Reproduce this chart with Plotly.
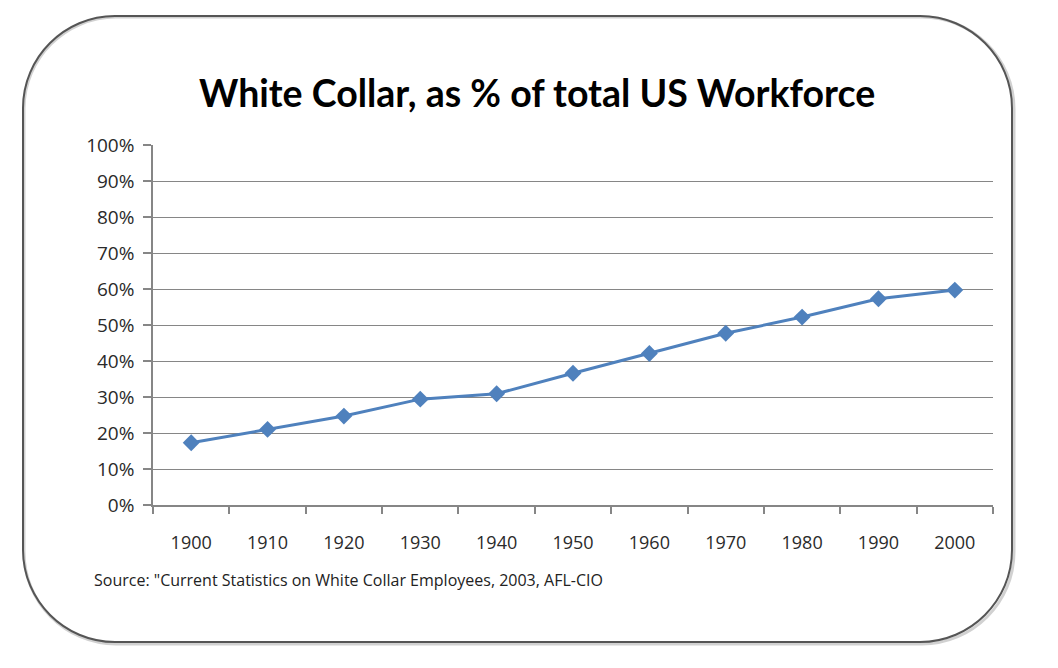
import plotly.graph_objects as go

# data
years = ["1900", "1910", "1920", "1930", "1940", "1950",
         "1960", "1970", "1980", "1990", "2000"]
white_collar_pct = [17.3, 21.0, 24.7, 29.4, 30.9, 36.6,
                    42.1, 47.7, 52.2, 57.3, 59.7]
y_ticks = [0, 10, 20, 30, 40, 50, 60, 70, 80, 90, 100]
y_tick_labels = [f"{v}%" for v in y_ticks]

# the page puts the figure 8px in from the window edge
W, H = 1042, 652
L, T = 145, 137
R = W - 985
B = H - 497
pw, ph = W - L - R, H - T - B


def px(x):
    return (x - L) / pw


def py(y):
    return (H - B - y) / ph


def rounded_box(x0, y0, x1, y1, r):
    # rounded rectangle in paper coords built from pixel positions
    k = 0.55 * r
    pts = [
        f"M {px(x0 + r)},{py(y0)}",
        f"L {px(x1 - r)},{py(y0)}",
        f"C {px(x1 - r + k)},{py(y0)} {px(x1)},{py(y0 + r - k)} {px(x1)},{py(y0 + r)}",
        f"L {px(x1)},{py(y1 - r)}",
        f"C {px(x1)},{py(y1 - r + k)} {px(x1 - r + k)},{py(y1)} {px(x1 - r)},{py(y1)}",
        f"L {px(x0 + r)},{py(y1)}",
        f"C {px(x0 + r - k)},{py(y1)} {px(x0)},{py(y1 - r + k)} {px(x0)},{py(y1 - r)}",
        f"L {px(x0)},{py(y0 + r)}",
        f"C {px(x0)},{py(y0 + r - k)} {px(x0 + r - k)},{py(y0)} {px(x0 + r)},{py(y0)}",
        "Z",
    ]
    return " ".join(pts)


fig = go.Figure()

fig.add_trace(go.Scatter(
    x=years,
    y=white_collar_pct,
    mode="lines+markers",
    line=dict(color="#4F81BD", width=3),
    marker=dict(symbol="diamond", size=13, color="#4F81BD"),
    hoverinfo="x+y",
))

# frame shadow + frame
fig.add_shape(type="path", xref="paper", yref="paper",
              path=rounded_box(16, 9, 1006, 636, 92),
              line=dict(color="rgba(0,0,0,0.18)", width=3), layer="below")
fig.add_shape(type="path", xref="paper", yref="paper",
              path=rounded_box(15, 8, 1004, 634, 92),
              line=dict(color="#555555", width=2), layer="below")

fig.add_annotation(
    text="<b>White Collar, as % of total US Workforce</b>",
    xref="paper", yref="paper", x=px(529), y=py(84),
    xanchor="center", yanchor="middle", showarrow=False,
    font=dict(family="Lato", size=37.5, color="#000000"),
)

fig.add_annotation(
    text="Source: \"Current Statistics on White Collar Employees, 2003, AFL-CIO",
    xref="paper", yref="paper", x=px(84), y=py(572),
    xanchor="left", yanchor="middle", showarrow=False,
    font=dict(family="Open Sans", size=16, color="#222222"),
)

fig.update_layout(
    width=W, height=H,
    margin=dict(l=L, r=R, t=T, b=B),
    paper_bgcolor="white",
    plot_bgcolor="white",
    showlegend=False,
    font=dict(family="Open Sans", size=18, color="#333333"),
)

fig.update_xaxes(
    type="category",
    range=[-0.5, 10.5],
    showgrid=False,
    showline=True, linecolor="#868686", linewidth=1.5,
    ticks="outside", tickson="boundaries", ticklen=7,
    tickcolor="#868686", tickwidth=1.5,
    tickfont=dict(family="Open Sans", size=18, color="#2a2a2a"),
    ticklabelstandoff=21,
)

fig.update_yaxes(
    range=[0, 100],
    tickvals=y_ticks, ticktext=y_tick_labels,
    showgrid=True, gridcolor="#868686", gridwidth=1,
    zeroline=False,
    showline=True, linecolor="#868686", linewidth=1.5,
    ticks="outside", ticklen=8, tickcolor="#868686", tickwidth=1.5,
    tickfont=dict(family="Open Sans", size=19, color="#2a2a2a"),
    ticklabelstandoff=5,
)

fig.write_html("out.html")
